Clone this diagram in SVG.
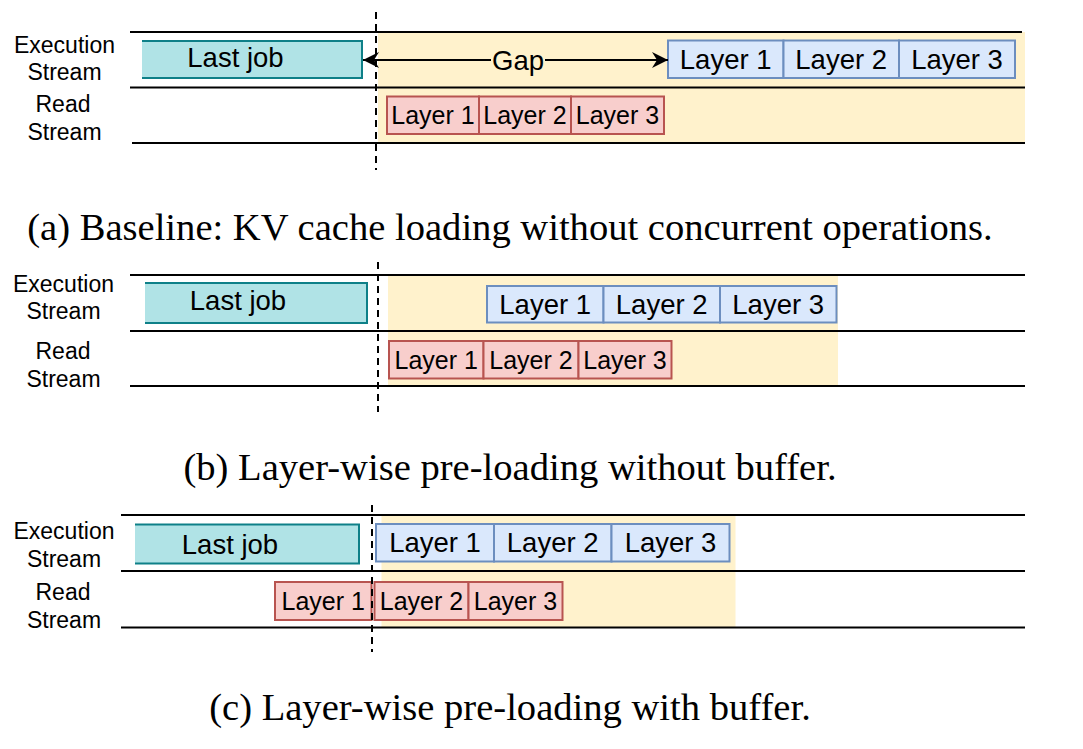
<svg xmlns="http://www.w3.org/2000/svg" width="1083" height="749" viewBox="0 0 1083 749">
<defs>
<style>
.bg{fill:#fff2cc}
.ln{stroke:#000;stroke-width:2;fill:none}
.dash{stroke:#000;stroke-width:2;stroke-dasharray:7,5;fill:none}
.job{fill:#b0e3e6}
.jobs{fill:none;stroke:#0e8088;stroke-width:2}
.blue{fill:#dae8fc;stroke:#6c8ebf;stroke-width:2}
.red{fill:#f8cecc;stroke:#b85450;stroke-width:2}
.lbl{font-family:"Liberation Sans",Arial,sans-serif;font-size:23px;fill:#000;text-anchor:middle}
.jt{font-family:"Liberation Sans",Arial,sans-serif;font-size:27.5px;fill:#000;text-anchor:middle}
.bt{font-family:"Liberation Sans",Arial,sans-serif;font-size:27.5px;fill:#000;text-anchor:middle}
.rt{font-family:"Liberation Sans",Arial,sans-serif;font-size:25px;fill:#000;text-anchor:middle}
.cap{font-family:"Liberation Serif","Times New Roman",serif;font-size:38.6px;fill:#000;text-anchor:middle}
</style>
<marker id="ah" viewBox="0 0 16 16" refX="16" refY="8" markerWidth="16" markerHeight="16" markerUnits="userSpaceOnUse" orient="auto">
<path d="M0,0 L16,8 L0,16 L5,8 z" fill="#000"/>
</marker>
</defs>
<rect width="1083" height="749" fill="#fff"/>

<!-- Panel A -->
<g id="panelA">
<rect class="bg" x="378" y="32" width="647" height="111"/>
<line class="ln" x1="130" y1="32" x2="1022" y2="32"/>
<line class="ln" x1="130" y1="87.5" x2="1025" y2="87.5"/>
<line class="ln" x1="132" y1="143" x2="1025" y2="143"/>
<text class="lbl" x="64.5" y="53">Execution</text>
<text class="lbl" x="64.5" y="80">Stream</text>
<text class="lbl" x="63" y="112">Read</text>
<text class="lbl" x="64.5" y="139.5">Stream</text>
<g id="a-lastjob">
<rect class="job" x="142" y="41" width="220" height="37"/>
<path class="jobs" d="M142,41 H362 V78 H142"/>
<text class="jt" x="235.5" y="66.5">Last job</text>
</g>
<g id="a-exec1"><rect class="blue" x="668" y="40.5" width="115.5" height="37.5"/><text class="bt" x="725.7" y="69">Layer 1</text></g>
<g id="a-exec2"><rect class="blue" x="783.5" y="40.5" width="115.5" height="37.5"/><text class="bt" x="841.2" y="69">Layer 2</text></g>
<g id="a-exec3"><rect class="blue" x="899" y="40.5" width="116" height="37.5"/><text class="bt" x="957" y="69">Layer 3</text></g>
<g id="a-read1"><rect class="red" x="387" y="96.5" width="92" height="37.5"/><text class="rt" x="433" y="124">Layer 1</text></g>
<g id="a-read2"><rect class="red" x="479" y="96.5" width="92" height="37.5"/><text class="rt" x="525" y="124">Layer 2</text></g>
<g id="a-read3"><rect class="red" x="571" y="96.5" width="93" height="37.5"/><text class="rt" x="617.5" y="124">Layer 3</text></g>
<g id="connectorsA">
<line class="ln" x1="491" y1="60" x2="363" y2="60" marker-end="url(#ah)"/>
<line class="ln" x1="545" y1="60" x2="668" y2="60" marker-end="url(#ah)"/>
<text class="jt" x="518" y="69.5">Gap</text>
</g>
<line class="dash" x1="376" y1="12" x2="376" y2="170"/>
<text class="cap" x="510" y="240">(a) Baseline: KV cache loading without concurrent operations.</text>
</g>

<!-- Panel B -->
<g id="panelB">
<rect class="bg" x="388" y="275" width="450" height="111"/>
<line class="ln" x1="130" y1="275" x2="1025" y2="275"/>
<line class="ln" x1="130" y1="331" x2="1025" y2="331"/>
<line class="ln" x1="130" y1="386" x2="1025" y2="386"/>
<text class="lbl" x="63.5" y="292">Execution</text>
<text class="lbl" x="63.5" y="319">Stream</text>
<text class="lbl" x="63" y="359">Read</text>
<text class="lbl" x="63.5" y="386.5">Stream</text>
<g id="b-lastjob">
<rect class="job" x="145" y="283" width="222" height="40"/>
<path class="jobs" d="M145,283 H367 V323 H145"/>
<text class="jt" x="238" y="310">Last job</text>
</g>
<g id="b-exec1"><rect class="blue" x="487" y="286" width="116.5" height="36.5"/><text class="bt" x="545.2" y="314">Layer 1</text></g>
<g id="b-exec2"><rect class="blue" x="603.5" y="286" width="116.5" height="36.5"/><text class="bt" x="661.7" y="314">Layer 2</text></g>
<g id="b-exec3"><rect class="blue" x="720" y="286" width="116.5" height="36.5"/><text class="bt" x="778.2" y="314">Layer 3</text></g>
<g id="b-read1"><rect class="red" x="389" y="341" width="94.5" height="37.5"/><text class="rt" x="436.2" y="368.5">Layer 1</text></g>
<g id="b-read2"><rect class="red" x="483.5" y="341" width="95" height="37.5"/><text class="rt" x="531" y="368.5">Layer 2</text></g>
<g id="b-read3"><rect class="red" x="578.5" y="341" width="93" height="37.5"/><text class="rt" x="625" y="368.5">Layer 3</text></g>
<line class="dash" x1="378" y1="262" x2="378" y2="412"/>
<text class="cap" x="510" y="480">(b) Layer-wise pre-loading without buffer.</text>
</g>

<!-- Panel C -->
<g id="panelC">
<rect class="bg" x="381.5" y="515" width="354" height="112"/>
<line class="ln" x1="121" y1="515" x2="1025" y2="515"/>
<line class="ln" x1="121" y1="571" x2="1025" y2="571"/>
<line class="ln" x1="121" y1="627.5" x2="1025" y2="627.5"/>
<text class="lbl" x="64" y="539">Execution</text>
<text class="lbl" x="64" y="566.5">Stream</text>
<text class="lbl" x="63" y="600">Read</text>
<text class="lbl" x="64" y="627.5">Stream</text>
<g id="c-lastjob">
<rect class="job" x="135" y="524.5" width="224" height="39"/>
<path class="jobs" d="M135,524.5 H359 V563.5 H135"/>
<text class="jt" x="230" y="553.5">Last job</text>
</g>
<g id="c-exec1"><rect class="blue" x="376" y="524" width="118" height="37.5"/><text class="bt" x="435" y="552">Layer 1</text></g>
<g id="c-exec2"><rect class="blue" x="494" y="524" width="117.5" height="37.5"/><text class="bt" x="552.7" y="552">Layer 2</text></g>
<g id="c-exec3"><rect class="blue" x="611.5" y="524" width="118" height="37.5"/><text class="bt" x="670.5" y="552">Layer 3</text></g>
<g id="c-read1"><rect class="red" x="275" y="582" width="96.5" height="38"/><text class="rt" x="323.2" y="610">Layer 1</text></g>
<g id="c-read2"><rect class="red" x="374.5" y="582" width="94" height="38"/><text class="rt" x="421.5" y="610">Layer 2</text></g>
<g id="c-read3"><rect class="red" x="468.5" y="582" width="94" height="38"/><text class="rt" x="515.5" y="610">Layer 3</text></g>
<line class="dash" x1="372" y1="505" x2="372" y2="652"/>
<text class="cap" x="510" y="720">(c) Layer-wise pre-loading with buffer.</text>
</g>
</svg>
